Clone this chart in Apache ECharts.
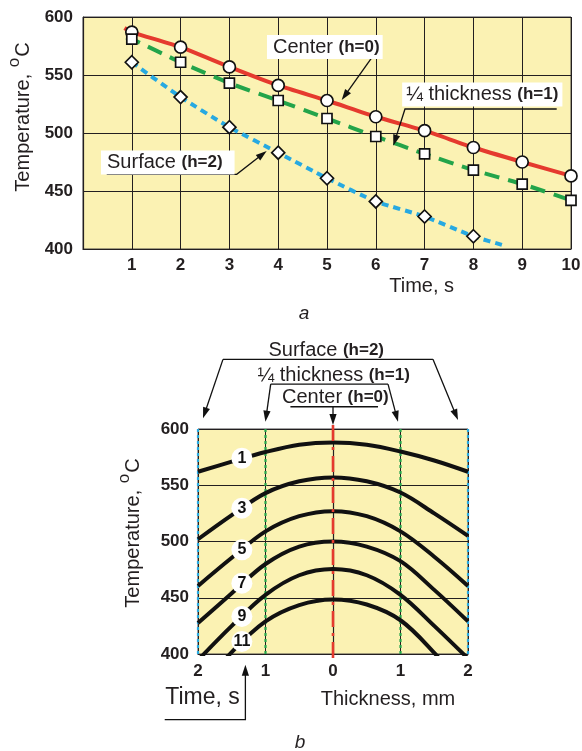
<!DOCTYPE html>
<html><head><meta charset="utf-8">
<script src="https://cdn.jsdelivr.net/npm/echarts@6/dist/echarts.min.js"></script>
<style>html,body{margin:0;padding:0;background:#fff}#c{width:582px;height:751px}</style>
</head><body><div id="c"></div>
<script>
// ---------- chart a (temperature vs time) ----------
const timeTicks = [1, 2, 3, 4, 5, 6, 7, 8, 9, 10];
const centerTemp = [587, 574, 557, 541, 528, 514, 502, 487.5, 475, 463];
const quarterTemp = [581, 561, 543, 528, 512.5, 497, 482, 468, 456, 442];
const surfaceTemp = [561, 531, 505, 483, 461, 441, 428, 411];
const centerLineStart = [0.85, 590.5];
const quarterLineStart = [0.88, 582];
const surfaceLineEnd = [8.67, 402.5];
const tempTicks = [400, 450, 500, 550, 600];
const timeAxis = [0, 10];

// ---------- chart b (temperature profiles across thickness) ----------
const thicknessPos = [-2, -1.5, -1, -0.5, 0, 0.5, 1, 1.5, 2];
const profile1 = [562, 571, 579.5, 586, 588, 586, 580, 572, 562];
const profile3 = [502, 523.5, 543, 553.5, 557, 553.5, 543.5, 525, 505];
const profile5 = [460.5, 485.5, 509, 522.5, 527, 522.5, 509, 486.5, 460.5];
const profile7 = [427.5, 454, 480, 495.5, 500, 495.5, 482.5, 457, 429];
const profile9 = [394.5, 425, 452.6, 470, 475.5, 470, 452.6, 425, 396];
const profile11 = [366, 401.7, 429, 443.5, 448.5, 444, 430, 401, 366];
const profileLabels = ['1', '3', '5', '7', '9', '11'];
const labelThickness = -1.35;
const labelTemps = [574, 529.6, 492.6, 463, 433.4, 411.2];
const thicknessTicks = [-2, -1, 0, 1, 2];
const surfacePos = [-2, 2];
const quarterPos = [-1, 1];
const centerPos = 0;
const centerLineSpan = [603.6, 394.9];

const FF = '"Liberation Sans", Arial, Helvetica, sans-serif';
const INK = '#231F20';
const YEL = '#FBF2B3';
const RED = '#E53A2E', GREEN = '#23A44A', BLUE = '#27A9E1';

const chart = echarts.init(document.getElementById('c'), null, {renderer: 'canvas'});

function axisBase(extra) {
  return Object.assign({
    axisLine: {show: true, lineStyle: {color: INK, width: 1.2}},
    axisTick: {show: false},
    splitLine: {show: true, lineStyle: {color: INK, width: 1}},
    axisLabel: {fontFamily: FF, fontWeight: 'bold', fontSize: 17, color: INK}
  }, extra);
}

const profiles = [profile1, profile3, profile5, profile7, profile9, profile11];
const markerStyle = {color: '#fff', borderColor: '#111', borderWidth: 1.7, opacity: 1};

const series = [
  // chart a curves
  {type: 'line', xAxisIndex: 0, yAxisIndex: 0, showSymbol: false, smooth: 0.2,
   data: [centerLineStart].concat(timeTicks.map((t, i) => [t, centerTemp[i]])),
   lineStyle: {color: RED, width: 4}, z: 3},
  {type: 'line', xAxisIndex: 0, yAxisIndex: 0, showSymbol: false, smooth: 0.2,
   data: [quarterLineStart].concat(timeTicks.map((t, i) => [t, quarterTemp[i]])),
   lineStyle: {color: GREEN, width: 4, type: [15, 9]}, z: 3},
  {type: 'line', xAxisIndex: 0, yAxisIndex: 0, showSymbol: false, smooth: 0.2,
   data: surfaceTemp.map((v, i) => [timeTicks[i], v]).concat([surfaceLineEnd]),
   lineStyle: {color: BLUE, width: 4, type: [7, 5]}, z: 3},
  {type: 'scatter', xAxisIndex: 0, yAxisIndex: 0, symbol: 'circle', symbolSize: 12,
   data: timeTicks.map((t, i) => [t, centerTemp[i]]), itemStyle: markerStyle, z: 5},
  {type: 'scatter', xAxisIndex: 0, yAxisIndex: 0, symbol: 'rect', symbolSize: 10,
   data: timeTicks.map((t, i) => [t, quarterTemp[i]]), itemStyle: markerStyle, z: 5},
  {type: 'scatter', xAxisIndex: 0, yAxisIndex: 0, symbol: 'diamond', symbolSize: 13,
   data: surfaceTemp.map((v, i) => [timeTicks[i], v]), itemStyle: markerStyle, z: 5}
];

// chart b vertical reference lines
surfacePos.forEach(p => series.push({type: 'line', xAxisIndex: 1, yAxisIndex: 1, showSymbol: false,
  data: [[p, tempTicks[0]], [p, tempTicks[tempTicks.length - 1]]],
  lineStyle: {color: BLUE, width: 2.2, type: [3, 3]}, z: 2}));
quarterPos.forEach(p => series.push({type: 'line', xAxisIndex: 1, yAxisIndex: 1, showSymbol: false,
  data: [[p, tempTicks[0]], [p, tempTicks[tempTicks.length - 1]]],
  lineStyle: {color: GREEN, width: 2.2, type: [3, 3]}, z: 2}));
profiles.forEach(arr => series.push({type: 'line', xAxisIndex: 1, yAxisIndex: 1, showSymbol: false,
  smooth: 0.35, clip: true,
  data: arr.map((v, i) => [thicknessPos[i], v]),
  lineStyle: {color: '#111', width: 4}, z: 3}));
series.push({type: 'line', xAxisIndex: 1, yAxisIndex: 1, showSymbol: false, clip: false,
  data: centerLineSpan.map(v => [centerPos, v]),
  lineStyle: {color: RED, width: 2.6, type: [16, 6, 3, 6]}, z: 4});
series.push({type: 'scatter', xAxisIndex: 1, yAxisIndex: 1, symbol: 'circle', symbolSize: 21,
  data: labelTemps.map(v => [labelThickness, v]),
  itemStyle: {color: '#fff', opacity: 1},
  label: {show: true, position: 'inside', formatter: p => profileLabels[p.dataIndex],
    fontFamily: FF, fontWeight: 'bold', fontSize: 16, color: '#111'}, z: 6});

chart.setOption({
  animation: false,
  backgroundColor: '#fff',
  grid: [
    {left: 83, top: 17, width: 488, height: 232, show: true, backgroundColor: YEL,
     borderColor: '#444', borderWidth: 1, outerBoundsMode: 'none', containLabel: false},
    {left: 198, top: 429, width: 270, height: 225, show: true, backgroundColor: YEL,
     borderColor: '#444', borderWidth: 1, outerBoundsMode: 'none', containLabel: false}
  ],
  xAxis: [
    axisBase({gridIndex: 0, type: 'value', min: timeAxis[0], max: timeAxis[1], interval: 1,
      axisLabel: {fontFamily: FF, fontWeight: 'bold', fontSize: 17, color: INK, margin: 8,
        formatter: v => (timeTicks.indexOf(v) >= 0 ? String(v) : '')}}),
    axisBase({gridIndex: 1, type: 'value', min: thicknessTicks[0], max: thicknessTicks[thicknessTicks.length - 1], interval: 1,
      axisLabel: {fontFamily: FF, fontWeight: 'bold', fontSize: 17, color: INK, margin: 9,
        formatter: v => String(Math.abs(v))}})
  ],
  yAxis: [
    axisBase({gridIndex: 0, type: 'value', min: tempTicks[0], max: tempTicks[tempTicks.length - 1], interval: 50,
      axisLabel: {fontFamily: FF, fontWeight: 'bold', fontSize: 17, color: INK, margin: 10}}),
    axisBase({gridIndex: 1, type: 'value', min: tempTicks[0], max: tempTicks[tempTicks.length - 1], interval: 50,
      axisLabel: {fontFamily: FF, fontWeight: 'bold', fontSize: 17, color: INK, margin: 9}})
  ],
  series: series
});

// ---------- annotations (anchored in data coordinates) ----------
const annA = {
  center: {box: [3.77, 574.1], arrow: [[5.918, 564.9], [5.301, 528.4]]},
  quarter: {box: [6.54, 533.2], arrow: [[9.707, 520.7], [6.598, 520.7], [6.359, 489.1]]},
  surface: {box: [0.369, 474.6], arrow: [[0.486, 464.4], [3.15, 464.4], [3.764, 484.5]]}
};
const annB = {
  surfaceText: [-0.1, 670.1],
  surfaceBar: [[-1.63, 661.9], [1.481, 661.9]],
  surfaceTips: [[-1.926, 609.5], [1.852, 608.0]],
  quarterText: [0.01, 647.9],
  quarterBar: [[-0.923, 639.9], [0.815, 639.9]],
  quarterTips: [[-1.001, 606.5], [0.963, 606.5]],
  centerText: [0.035, 628.4],
  centerBar: [[-0.631, 619.8], [0.667, 619.8]],
  centerArrow: [[0, 619.8], [0, 603.6]],
  timeArrow: [[-2.493, 341.7], [-1.298, 341.7], [-1.298, 390.5]]
};

const px = (g, d) => chart.convertToPixel({gridIndex: g}, d);
const gfx = [];
function arrow(g, pts) {
  const p = pts.map(d => px(g, d));
  const n = p.length;
  const [x1, y1] = p[n - 2], [x2, y2] = p[n - 1];
  const L = Math.hypot(x2 - x1, y2 - y1), ux = (x2 - x1) / L, uy = (y2 - y1) / L;
  const hl = 11, hw = 3.6;
  const bx = x2 - ux * hl, by = y2 - uy * hl;
  const lp = p.slice(0, n - 1).concat([[x2 - ux * hl * 0.6, y2 - uy * hl * 0.6]]);
  gfx.push({type: 'polyline', shape: {points: lp}, style: {stroke: '#111', lineWidth: 1.3, fill: null}, z: 20});
  gfx.push({type: 'polygon', shape: {points: [[x2, y2], [bx - uy * hw, by + ux * hw], [bx + uy * hw, by - ux * hw]]},
    style: {fill: '#111'}, z: 20});
}
function seg(g, pts) {
  gfx.push({type: 'polyline', shape: {points: pts.map(d => px(g, d))}, style: {stroke: '#111', lineWidth: 1.3, fill: null}, z: 20});
}
const rich = {b: {font: 'bold 17px ' + FF, fill: INK}};
function label(g, d, text, align, pad, bg) {
  const [x, y] = px(g, d);
  gfx.push({type: 'text', x: x, y: y, z: 21,
    style: {text: text, font: '20px ' + FF, fill: INK, align: align, verticalAlign: 'middle',
      rich: rich, backgroundColor: bg || null, padding: pad || 0}});
}

// chart a
arrow(0, annA.center.arrow);
arrow(0, annA.quarter.arrow);
arrow(0, annA.surface.arrow);
label(0, annA.center.box, 'Center {b|(h=0)}', 'left', [2, 3, 2, 6], '#fff');
label(0, annA.quarter.box, '\u00BC thickness {b|(h=1)}', 'left', [2, 4, 2, 4], '#fff');
label(0, annA.surface.box, 'Surface {b|(h=2)}', 'left', [2, 12, 2, 6], '#fff');

// chart b
seg(1, annB.surfaceBar);
arrow(1, [annB.surfaceBar[0], annB.surfaceTips[0]]);
arrow(1, [annB.surfaceBar[1], annB.surfaceTips[1]]);
seg(1, annB.quarterBar);
arrow(1, [annB.quarterBar[0], annB.quarterTips[0]]);
arrow(1, [annB.quarterBar[1], annB.quarterTips[1]]);
seg(1, annB.centerBar);
arrow(1, annB.centerArrow);
arrow(1, annB.timeArrow);
label(1, annB.surfaceText, 'Surface {b|(h=2)}', 'center');
label(1, annB.quarterText, '\u00BC thickness {b|(h=1)}', 'center');
label(1, annB.centerText, 'Center {b|(h=0)}', 'center');

// axis titles and captions (layout text)
const yTitleRich = {
  m: {font: '20px ' + FF, fill: INK},
  o: {font: '17px ' + FF, fill: INK, padding: [0, 1, 17, 1]}
};
function yTitle(x, y) {
  gfx.push({type: 'text', x: x, y: y, rotation: Math.PI / 2, z: 21,
    style: {text: '{m|Temperature, }{o|o}{m|C}', rich: yTitleRich, font: '20px ' + FF, fill: INK,
      align: 'center', verticalAlign: 'middle'}});
}
yTitle(23, 117);
yTitle(133, 533);
function plain(x, y, text, font) {
  gfx.push({type: 'text', x: x, y: y, z: 21,
    style: {text: text, font: font, fill: INK, align: 'center', verticalAlign: 'middle'}});
}
plain(421.7, 286.5, 'Time, s', '20px ' + FF);
plain(388, 699, 'Thickness, mm', '20px ' + FF);
plain(202.5, 697.5, 'Time, s', '23px ' + FF);
plain(304, 314, 'a', 'italic 19px ' + FF);
plain(300, 743, 'b', 'italic 19px ' + FF);

chart.setOption({graphic: {elements: gfx}});
</script>
</body></html>
